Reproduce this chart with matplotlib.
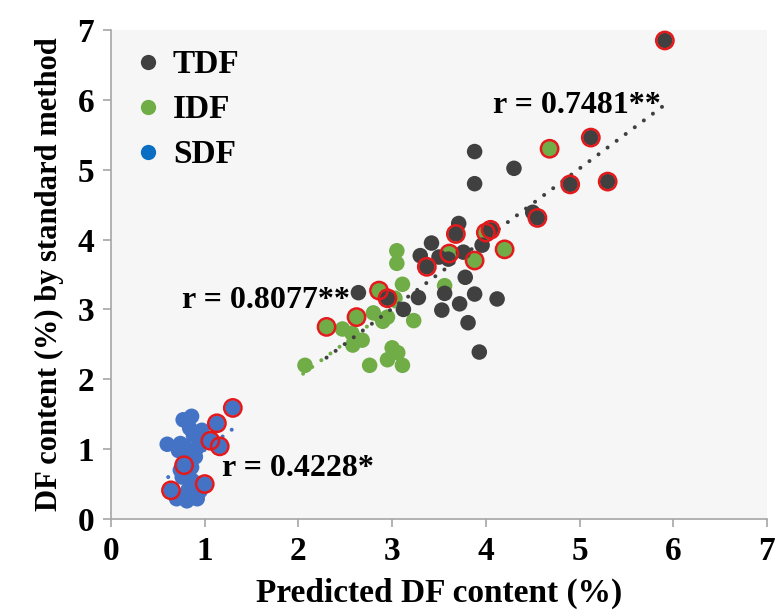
import matplotlib
matplotlib.use("Agg")
import matplotlib.pyplot as plt
import numpy as np

# ---- data ----
tdf_x = [5.91, 5.12, 5.30, 4.90, 4.55, 4.50, 4.30, 3.88, 3.88, 3.71, 3.68, 4.05, 3.96, 3.42,
         3.30, 3.76, 3.37, 3.78, 3.28, 3.56, 3.88, 4.12, 3.72, 3.53, 3.12, 3.81, 3.93, 2.64,
         2.95, 3.50, 3.60]
tdf_y = [6.85, 5.46, 4.83, 4.79, 4.31, 4.39, 5.02, 5.26, 4.80, 4.23, 4.08, 4.14, 3.92, 3.95,
         3.77, 3.82, 3.61, 3.46, 3.17, 3.23, 3.22, 3.15, 3.08, 2.99, 3.00, 2.81, 2.39, 3.24,
         3.16, 3.75, 3.72]
tdf_hl = [1, 1, 1, 1, 1, 0, 0, 0, 0, 0, 1, 1, 0, 0,
          0, 0, 1, 0, 0, 0, 0, 0, 0, 0, 0, 0, 0, 0,
          1, 0, 0]

idf_x = [4.68, 4.00, 4.20, 3.88, 3.61, 3.05, 3.05, 3.11, 3.56, 2.86, 2.62, 2.30, 2.80, 2.95,
         2.47, 2.57, 2.68, 2.58, 3.00, 3.06, 2.95, 2.76, 3.11, 2.07, 3.23, 3.03, 2.90]
idf_y = [5.30, 4.10, 3.86, 3.70, 3.80, 3.84, 3.66, 3.36, 3.34, 3.27, 2.89, 2.75, 2.95, 2.89,
         2.72, 2.66, 2.56, 2.49, 2.45, 2.38, 2.28, 2.20, 2.20, 2.20, 2.84, 3.16, 2.83]
idf_hl = [1, 1, 1, 1, 1, 0, 0, 0, 0, 1, 1, 1, 0, 0,
          0, 0, 0, 0, 0, 0, 0, 0, 0, 0, 0, 0, 0]

sdf_x = [1.30, 1.13, 1.06, 1.16, 0.78, 1.00, 0.64, 0.86, 0.77, 0.60, 0.74, 0.88, 0.97, 0.92,
         0.82, 0.90, 0.74, 0.86, 0.92, 0.82, 0.70, 0.81, 0.92, 0.95, 0.86, 0.78, 0.95, 0.72,
         0.84, 0.76]
sdf_y = [1.59, 1.37, 1.12, 1.04, 0.77, 0.50, 0.41, 1.47, 1.42, 1.07, 1.08, 1.20, 1.27, 1.02,
         0.92, 0.89, 0.70, 0.56, 0.51, 0.41, 0.29, 0.26, 0.29, 0.40, 0.74, 1.05, 1.10, 0.98,
         1.30, 0.60]
sdf_hl = [1, 1, 1, 1, 1, 1, 1, 0, 0, 0, 0, 0, 0, 0,
          0, 0, 0, 0, 0, 0, 0, 0, 0, 0, 0, 0, 0, 0,
          0, 0]

# trendline end points
tdf_trend_x = [2.30, 5.91]
tdf_trend_y = [2.31, 5.93]
idf_trend_x = [2.05, 3.10]
idf_trend_y = [2.08, 3.12]
sdf_trend_x = [0.61, 1.30]
sdf_trend_y = [0.60, 1.29]

r_labels = ["r = 0.7481**", "r = 0.8077**", "r = 0.4228*"]
r_pos = [(4.97, 5.92), (1.65, 3.13), (1.99, 0.73)]

series_names = ["TDF", "IDF", "SDF"]
colors = {"TDF": "#404040", "IDF": "#70ad47", "SDF": "#4472c4"}
legend_colors = {"TDF": "#404040", "IDF": "#70ad47", "SDF": "#0a6ec2"}

xticks = [0, 1, 2, 3, 4, 5, 6, 7]
yticks = [0, 1, 2, 3, 4, 5, 6, 7]

# ---- plot ----
plt.rcParams['font.family'] = ['Liberation Serif', 'DejaVu Serif']
plt.rcParams['font.weight'] = 'bold'

fig = plt.figure(figsize=(7.79, 6.13), dpi=100)
ax = fig.add_axes([111/779, (613-519)/613, 656/779, 489/613])
ax.set_facecolor("#f6f6f6")

msize = 125
dot_style = dict(linestyle=(0, (0.01, 2.8)), linewidth=2.9, dash_capstyle='round')

# SDF
ax.plot(sdf_trend_x, sdf_trend_y, color=colors["SDF"], zorder=1, **dot_style)
ax.scatter(sdf_x, sdf_y, s=msize, color=colors["SDF"], edgecolors='none', zorder=2, label="SDF")
# IDF
ax.plot(idf_trend_x, idf_trend_y, color=colors["IDF"], zorder=3, **dot_style)
ax.scatter(idf_x, idf_y, s=msize, color=colors["IDF"], edgecolors='none', zorder=4, label="IDF")
# TDF
ax.scatter(tdf_x, tdf_y, s=msize, color=colors["TDF"], edgecolors='none', zorder=5, label="TDF")
ax.plot(tdf_trend_x, tdf_trend_y, color=colors["TDF"], zorder=6, **dot_style)

# highlighted (red circles)
for xs, ys, hl in [(sdf_x, sdf_y, sdf_hl), (idf_x, idf_y, idf_hl), (tdf_x, tdf_y, tdf_hl)]:
    hx = [x for x, h in zip(xs, hl) if h]
    hy = [y for y, h in zip(ys, hl) if h]
    ax.scatter(hx, hy, s=155, facecolors='none', edgecolors='#e31a1c', linewidths=1.8, zorder=7)

for txt, (tx, ty) in zip(r_labels, r_pos):
    ax.text(tx, ty, txt, fontsize=23, fontweight='bold', ha='center', va='center', zorder=8)

ax.set_xlim(0, 7)
ax.set_ylim(0, 7)
ax.set_xticks(xticks)
ax.set_yticks(yticks)
ax.tick_params(axis='both', colors='#a6a6a6', length=6, width=1.2, labelsize=24, labelcolor='black', pad=6)
for lab in ax.get_xticklabels() + ax.get_yticklabels():
    lab.set_fontweight('bold')
for sp in ['top', 'right']:
    ax.spines[sp].set_visible(False)
for sp in ['left', 'bottom']:
    ax.spines[sp].set_color('#a6a6a6')
    ax.spines[sp].set_linewidth(1.2)

ax.set_xlabel("Predicted DF content (%)", fontsize=24, fontweight='bold', labelpad=8)
ax.set_ylabel("DF content (%) by standard method", fontsize=22, fontweight='bold', labelpad=10)

handles = []
for name in series_names:
    handles.append(plt.Line2D([], [], marker='o', linestyle='none', markersize=11,
                              markerfacecolor=legend_colors[name], markeredgecolor='none', label=name))
ax.legend(handles=handles, loc='upper left', bbox_to_anchor=(-0.01, 1.015), frameon=False,
          prop={'family': 'Liberation Serif', 'weight': 'bold', 'size': 24},
          handletextpad=0.25, labelspacing=0.42, borderaxespad=0.4, handlelength=1.0)

fig.savefig("out.png", dpi=100)
